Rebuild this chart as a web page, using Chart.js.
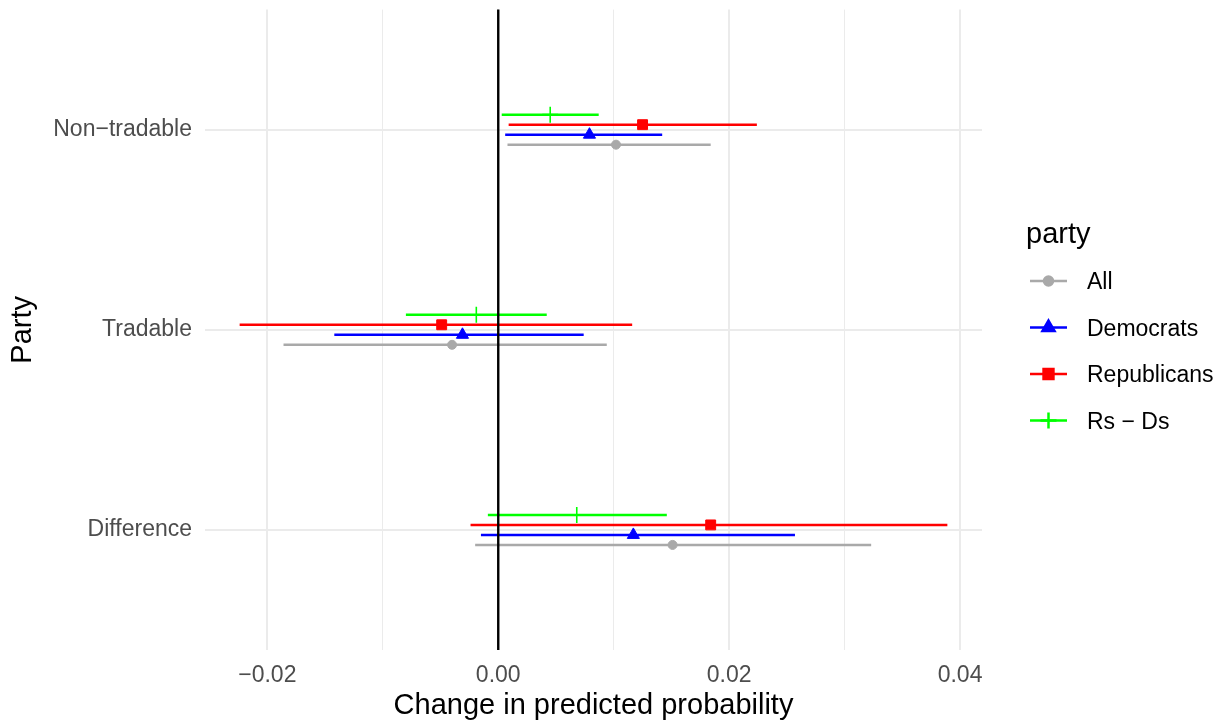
<!DOCTYPE html>
<html>
<head>
<meta charset="utf-8">
<script src="https://cdn.jsdelivr.net/npm/chart.js"></script>
<style>
  html, body { margin: 0; padding: 0; background: #fff; }
  #wrap { width: 1226px; height: 724px; }
</style>
</head>
<body>
<div id="wrap"><canvas id="chart" width="1226" height="724"></canvas></div>
<script>
// Categories, top to bottom
const categories = ["Non\u2212tradable", "Tradable", "Difference"];
const seriesNames = ["All", "Democrats", "Republicans", "Rs \u2212 Ds"];

// Estimates and interval ends, one value per category
const allEst = [0.0102, -0.0040, 0.0151];
const allLo  = [0.0008, -0.0186, -0.0020];
const allHi  = [0.0184, 0.0094, 0.0323];

const demEst = [0.0079, -0.0031, 0.0117];
const demLo  = [0.0006, -0.0142, -0.0015];
const demHi  = [0.0142, 0.0074, 0.0257];

const repEst = [0.0125, -0.0049, 0.0184];
const repLo  = [0.0009, -0.0224, -0.0024];
const repHi  = [0.0224, 0.0116, 0.0389];

const diffEst = [0.0045, -0.0019, 0.0068];
const diffLo  = [0.0003, -0.0080, -0.0009];
const diffHi  = [0.0087, 0.0042, 0.0146];

// x ticks (labelled ones are every 0.02)
const xTicks = [-0.02, -0.01, 0, 0.01, 0.02, 0.03, 0.04];

// Styling per series
const colors = ["#a9a9a9", "#0000ff", "#ff0000", "#00ff00"];
const styles = ["circle", "triangle", "rect", "cross"];
const radii = [4.5, 7, 7, 8];
const dodge = [-0.075, -0.025, 0.025, 0.075];

const ests = [allEst, demEst, repEst, diffEst];
const los = [allLo, demLo, repLo, diffLo];
const his = [allHi, demHi, repHi, diffHi];

// y position of each category (top one highest)
const catPos = categories.map((c, i) => categories.length - i);

const FONT = "'Liberation Sans', Arial, Helvetica, sans-serif";
const isLabelled = v => Math.abs(Math.round(v * 100)) % 2 === 0;
const fmt = v => (Math.abs(v) < 1e-9 ? 0 : v).toFixed(2).replace("-", "\u2212");

let datasets = [];
seriesNames.forEach((name, s) => {
  // error bars, gaps between categories
  let bars = [];
  categories.forEach((c, i) => {
    const y = catPos[i] + dodge[s];
    bars.push({ x: los[s][i], y: y }, { x: his[s][i], y: y }, { x: null, y: null });
  });
  datasets.push({
    label: name + " interval",
    data: bars,
    showLine: true,
    spanGaps: false,
    borderColor: colors[s],
    borderWidth: 2.5,
    pointRadius: 0,
    order: 2
  });
  // points
  datasets.push({
    label: name,
    data: categories.map((c, i) => ({ x: ests[s][i], y: catPos[i] + dodge[s] })),
    showLine: false,
    pointStyle: styles[s],
    pointRadius: radii[s],
    pointBackgroundColor: colors[s],
    pointBorderColor: colors[s],
    pointBorderWidth: s === 3 ? 1.6 : 1,
    order: 1
  });
});

// black line at zero + ggplot style legend
const extras = {
  id: "extras",
  afterDatasetsDraw(chart) {
    const { ctx, chartArea, scales } = chart;
    const x0 = scales.x.getPixelForValue(0);
    ctx.save();
    ctx.strokeStyle = "#000";
    ctx.lineWidth = 2.4;
    ctx.beginPath();
    ctx.moveTo(x0, chartArea.top);
    ctx.lineTo(x0, chartArea.bottom);
    ctx.stroke();
    ctx.restore();
  },
  afterDraw(chart) {
    const ctx = chart.ctx;
    ctx.save();
    ctx.fillStyle = "#000";
    ctx.font = "29px " + FONT;
    ctx.textAlign = "left";
    ctx.textBaseline = "alphabetic";
    ctx.fillText("party", 1026, 243);
    seriesNames.forEach((name, s) => {
      const y = 281 + s * 46.5;
      ctx.strokeStyle = colors[s];
      ctx.fillStyle = colors[s];
      ctx.lineWidth = 2.5;
      ctx.beginPath();
      ctx.moveTo(1030, y);
      ctx.lineTo(1067, y);
      ctx.stroke();
      Chart.helpers.drawPoint(ctx, {
        pointStyle: styles[s],
        radius: radii[s],
        rotation: 0,
        borderWidth: s === 3 ? 1.6 : 1
      }, 1048.5, y);
      ctx.fillStyle = "#000";
      ctx.font = "23px " + FONT;
      ctx.textBaseline = "middle";
      ctx.fillText(name, 1087, y + 2);
    });
    ctx.restore();
  }
};

new Chart(document.getElementById("chart"), {
  type: "scatter",
  data: { datasets: datasets },
  options: {
    responsive: false,
    animation: false,
    events: [],
    layout: { padding: { top: 9, right: 244, left: 0, bottom: 0 } },
    plugins: {
      legend: { display: false },
      tooltip: { enabled: false }
    },
    scales: {
      x: {
        type: "linear",
        min: -0.0254,
        max: 0.0419,
        afterBuildTicks: scale => { scale.ticks = xTicks.map(v => ({ value: v })); },
        afterFit: scale => {
          scale.height = 74;
          scale.paddingLeft = 0;
          scale.paddingRight = 0;
        },
        border: { display: false },
        grid: {
          color: "#ebebeb",
          drawTicks: false,
          lineWidth: c => (c.tick && isLabelled(c.tick.value) ? 2 : 1)
        },
        ticks: {
          autoSkip: false,
          maxRotation: 0,
          padding: 12,
          color: "#4d4d4d",
          font: { family: FONT, size: 23 },
          callback: v => (isLabelled(v) ? fmt(v) : "")
        },
        title: {
          display: true,
          text: "Change in predicted probability",
          color: "#000",
          font: { family: FONT, size: 29 },
          padding: { top: 0, bottom: 1 }
        }
      },
      y: {
        type: "linear",
        min: 0.4,
        max: 3.6,
        afterBuildTicks: scale => { scale.ticks = catPos.map(v => ({ value: v })); },
        afterFit: scale => {
          scale.width = 205;
          scale.paddingTop = 0;
          scale.paddingBottom = 0;
        },
        border: { display: false },
        grid: { color: "#ebebeb", lineWidth: 2, drawTicks: false },
        ticks: {
          autoSkip: false,
          padding: 13,
          color: "#4d4d4d",
          font: { family: FONT, size: 23 },
          callback: v => categories[catPos.indexOf(v)]
        },
        title: {
          display: true,
          text: "Party",
          color: "#000",
          font: { family: FONT, size: 29 },
          padding: { top: 6, bottom: 0 }
        }
      }
    }
  },
  plugins: [extras]
});
</script>
</body>
</html>
